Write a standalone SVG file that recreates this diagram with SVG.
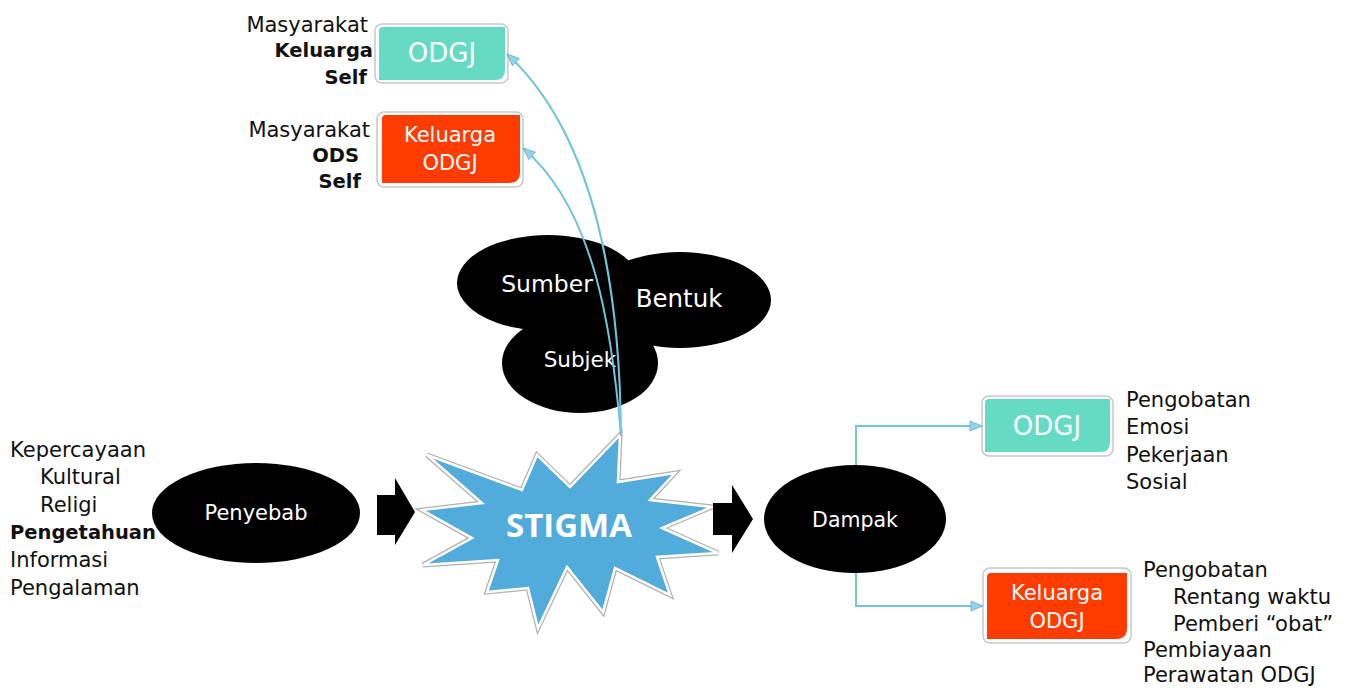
<svg xmlns="http://www.w3.org/2000/svg" width="1359" height="688" viewBox="0 0 1359 688">
<defs>
<marker id="ah" viewBox="0 0 14 12" refX="13" refY="6" markerWidth="14" markerHeight="12" markerUnits="userSpaceOnUse" orient="auto">
<path d="M1,1 L13,6 L1,11 Z" fill="#8dd4ee" stroke="#7aa9bb" stroke-width="0.8"/>
</marker>
</defs>
<style>
text{font-family:"DejaVu Sans","Liberation Sans",sans-serif}
.lbl{font-size:21px;fill:#111}
.b{font-weight:bold;font-size:19.5px}
.w{fill:#fff}
.st{font-family:"Open Sans","Liberation Sans",sans-serif;font-weight:bold}
.frame{fill:#fff;stroke:#c8c8c8;stroke-width:1.5}
.teal{fill:#64dbc2}
.orange{fill:#ff3c00}
.blob{fill:#000}
.conn{fill:none;stroke:#72c3dd;stroke-width:2}
</style>
<rect width="1359" height="688" fill="#fff"/>

<g id="labels-top-odgj" class="lbl" text-anchor="end">
<text x="368" y="32">Masyarakat</text>
<text x="373" y="57" class="b">Keluarga</text>
<text x="367" y="84" class="b">Self</text>
</g>
<g id="node-odgj-top">
<rect class="frame" x="375" y="24" width="133" height="59" rx="7"/>
<path class="teal" d="M383,27 H505 V70 Q505,80 495,80 H379 V31 Q379,27 383,27 Z"/>
<text x="442" y="62" text-anchor="middle" class="w" font-size="26">ODGJ</text>
</g>

<g id="labels-top-keluarga" class="lbl" text-anchor="end">
<text x="370" y="137">Masyarakat</text>
<text x="359" y="162" class="b">ODS</text>
<text x="361" y="188" class="b">Self</text>
</g>
<g id="node-keluarga-top">
<rect class="frame" x="377" y="112" width="146" height="75" rx="7"/>
<path class="orange" d="M386,115 H520 V172 Q520,183 509,183 H382 V119 Q382,115 386,115 Z"/>
<text x="450" y="142" text-anchor="middle" class="w" font-size="21">Keluarga</text>
<text x="450" y="170" text-anchor="middle" class="w" font-size="21">ODGJ</text>
</g>

<g id="node-sumber-bentuk-subjek">
<ellipse class="blob" cx="548" cy="283" rx="91" ry="48"/>
<ellipse class="blob" cx="680" cy="300" rx="91" ry="48"/>
<ellipse class="blob" cx="580" cy="363" rx="78" ry="50"/>
<text x="547" y="292" text-anchor="middle" class="w" font-size="23.5">Sumber</text>
<text x="679" y="307" text-anchor="middle" class="w" font-size="24.5">Bentuk</text>
<text x="580" y="367" text-anchor="middle" class="w" font-size="21.5">Subjek</text>
</g>

<g id="labels-penyebab" class="lbl">
<text x="10" y="457">Kepercayaan</text>
<text x="40" y="484">Kultural</text>
<text x="40" y="512">Religi</text>
<text x="10" y="539" class="b">Pengetahuan</text>
<text x="10" y="567">Informasi</text>
<text x="10" y="595">Pengalaman</text>
</g>
<g id="node-penyebab">
<ellipse class="blob" cx="256" cy="513" rx="104" ry="50"/>
<text x="256" y="520" text-anchor="middle" class="w" font-size="21">Penyebab</text>
</g>

<g id="arrow-left">
<polygon points="377,495 395,495 395,478 415,512 395,545 395,535 377,535" fill="#000"/>
</g>

<g id="node-stigma">
<path d="M620,435 L618,482 L675,473 L650,500 L712,507 L662,528 L718,553 L657,557 L670,595 L615,568 L603,612 L567,567 L538,628 L528,588 L487,592 L498,560 L423,565 L472,538 L422,510 L482,503 L427,455 L522,490 L537,455 L570,487 Z" fill="#52acdb" stroke="#b0b0b0" stroke-width="5" stroke-linejoin="miter"/>
<path d="M620,435 L618,482 L675,473 L650,500 L712,507 L662,528 L718,553 L657,557 L670,595 L615,568 L603,612 L567,567 L538,628 L528,588 L487,592 L498,560 L423,565 L472,538 L422,510 L482,503 L427,455 L522,490 L537,455 L570,487 Z" fill="#52acdb" stroke="#fff" stroke-width="2.5"/>
<text x="569" y="537" text-anchor="middle" class="w st" font-size="33">STIGMA</text>
</g>

<g id="arrow-right">
<polygon points="713,503 732,503 732,485 753,519 732,553 732,535 713,535" fill="#000"/>
</g>

<g id="node-dampak">
<ellipse class="blob" cx="855" cy="519" rx="91" ry="54"/>
<text x="855" y="527" text-anchor="middle" class="w" font-size="20.5">Dampak</text>
</g>

<g id="node-odgj-right">
<rect class="frame" x="982" y="396" width="131" height="60" rx="7"/>
<path class="teal" d="M989,399 H1110 V442 Q1110,452 1100,452 H985 V403 Q985,399 989,399 Z"/>
<text x="1047" y="435" text-anchor="middle" class="w" font-size="26">ODGJ</text>
</g>
<g id="labels-odgj-right" class="lbl">
<text x="1126" y="407">Pengobatan</text>
<text x="1126" y="434">Emosi</text>
<text x="1126" y="462">Pekerjaan</text>
<text x="1126" y="489">Sosial</text>
</g>

<g id="node-keluarga-right">
<rect class="frame" x="983" y="568" width="148" height="75" rx="7"/>
<path class="orange" d="M991,573 H1127 V628 Q1127,639 1116,639 H987 V577 Q987,573 991,573 Z"/>
<text x="1057" y="600" text-anchor="middle" class="w" font-size="21">Keluarga</text>
<text x="1057" y="628" text-anchor="middle" class="w" font-size="21">ODGJ</text>
</g>
<g id="labels-keluarga-right" class="lbl">
<text x="1143" y="577">Pengobatan</text>
<text x="1173" y="604">Rentang waktu</text>
<text x="1173" y="631">Pemberi “obat”</text>
<text x="1143" y="657">Pembiayaan</text>
<text x="1143" y="682">Perawatan ODGJ</text>
</g>

<g id="connectors">
<path class="conn" d="M621,436 C620,300 600,140 507,54" marker-end="url(#ah)"/>
<path class="conn" d="M621,436 C612,330 595,210 523,148" marker-end="url(#ah)"/>
<path class="conn" d="M856,465 V426 H982" marker-end="url(#ah)"/>
<path class="conn" d="M856,573 V606 H983" marker-end="url(#ah)"/>
</g>
</svg>
